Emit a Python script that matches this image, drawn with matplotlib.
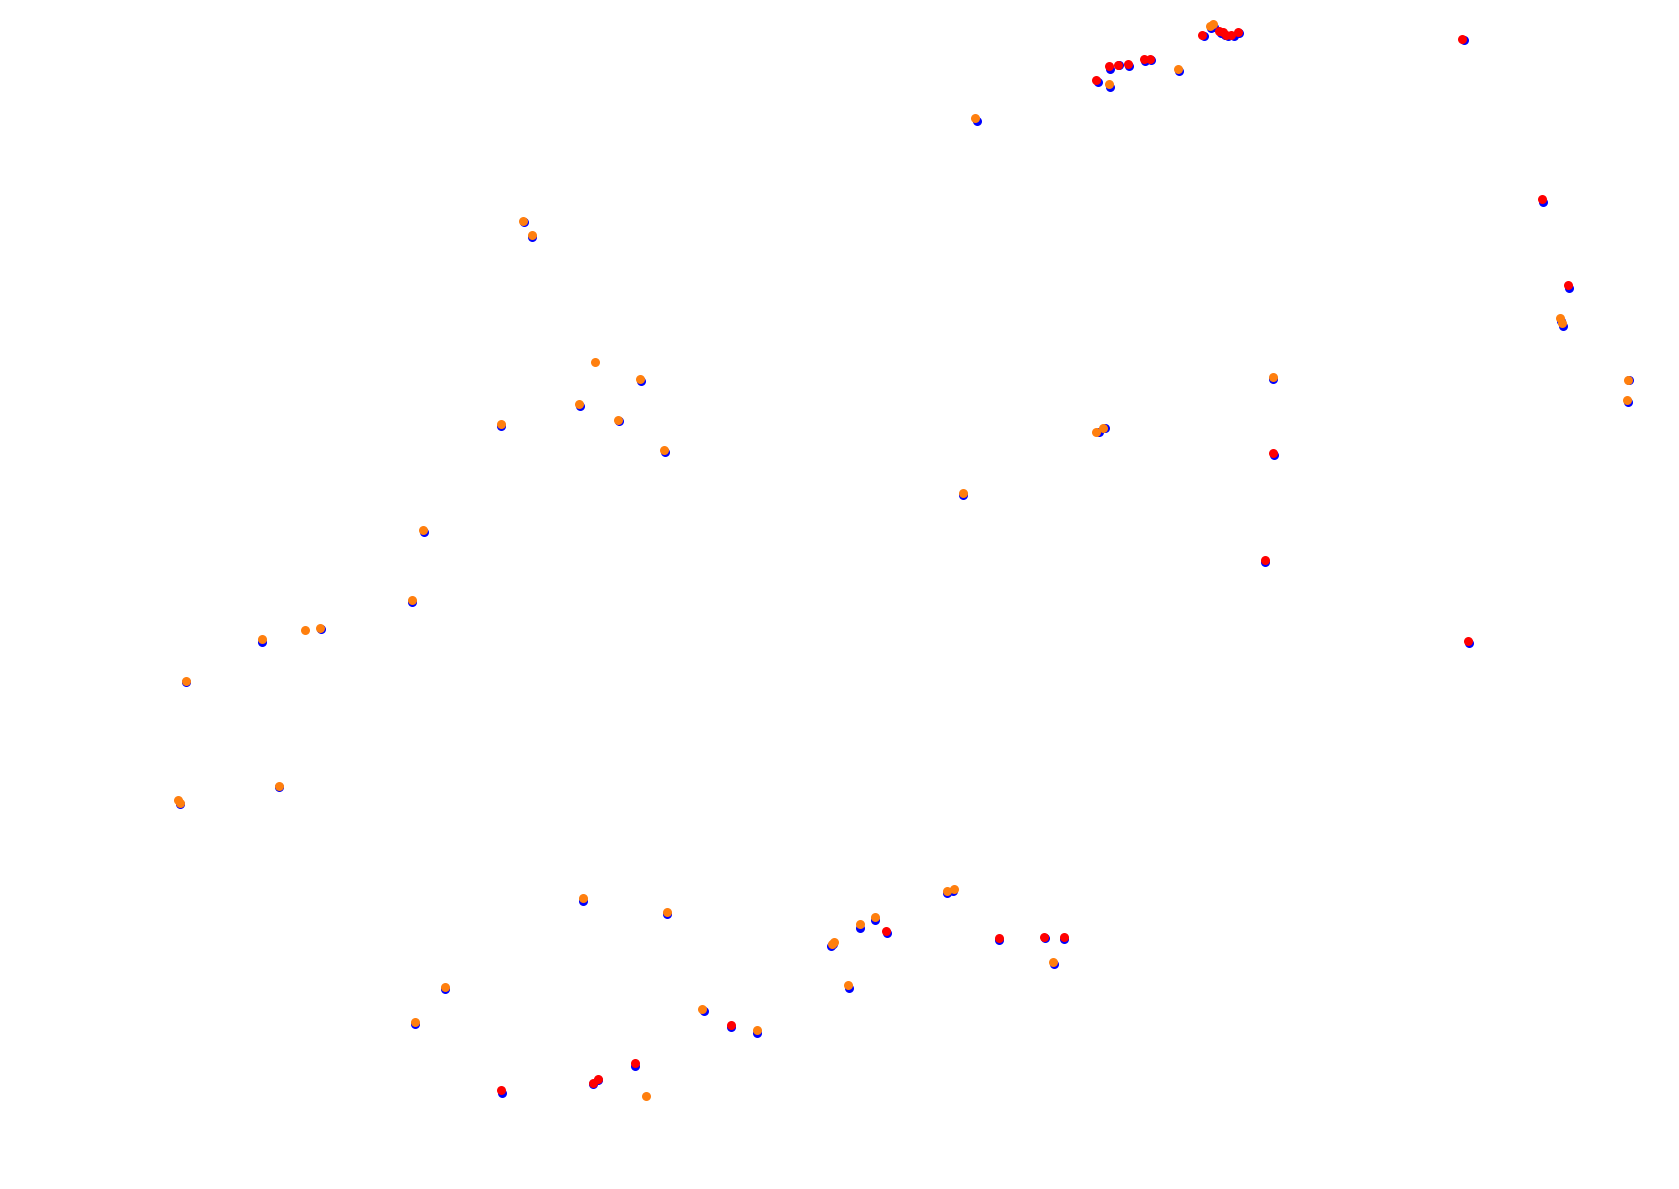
import matplotlib
matplotlib.use("Agg")
import matplotlib.pyplot as plt

# Blue base points (track map coordinates)
blue_x = [912, 1025, 1037, 1037, 1045, 1054, 1069, 1075, 1101, 1124, 1131, 1134, 1140, 1144, 1147, 1152, 1157,
          1367, 1441, 1465, 1458, 1460, 1521, 1520, 1189, 1190, 1181, 1372, 1026, 1032, 899,
          489, 497, 599, 542, 578, 468, 621, 396, 385, 245, 300, 174, 168, 261,
          544, 623, 416, 388, 469, 554, 558, 593, 657, 683, 707, 776, 778, 793, 803, 817, 828,
          884, 890, 933, 976, 994, 984]
blue_y = [113, 77, 81, 64, 61, 62, 57, 56, 66, 34, 26, 25, 31, 33, 34, 34, 31,
          37, 189, 269, 300, 304, 355, 375, 354, 425, 525, 600, 403, 400, 462,
          207, 221, 356, 379, 393, 398, 422, 497, 562, 599, 587, 637, 751, 735,
          841, 853, 923, 956, 1020, 1012, 1008, 995, 944, 959, 964, 883, 881, 922, 866, 859, 871,
          834, 832, 878, 876, 877, 900]

# Orange points
orange_x = [911, 1036, 1100, 1130, 1133, 1457, 1459, 1520, 1519, 1189, 1024, 1030, 899,
            488, 497, 556, 598, 541, 577, 468, 620, 395, 385, 245, 285, 299, 174, 166, 168, 261,
            544, 623, 416, 388, 603, 656, 707, 777, 779, 792, 803, 817, 884, 891, 983]
orange_y = [110, 78, 64, 24, 22, 297, 302, 355, 373, 352, 403, 400, 460,
            206, 219, 338, 354, 377, 392, 396, 420, 495, 560, 597, 588, 586, 636, 747, 750, 734,
            838, 851, 921, 954, 1023, 942, 962, 881, 879, 920, 863, 856, 832, 830, 898]

# Red points
red_x = [1024, 1036, 1044, 1053, 1068, 1074, 1123, 1138, 1142, 1145, 1150, 1156,
         1365, 1440, 1464, 1189, 1181, 1371, 468, 554, 558, 593, 683, 827, 933, 975, 994]
red_y = [75, 62, 61, 60, 55, 55, 33, 29, 30, 33, 33, 30,
         36, 186, 266, 423, 523, 598, 1018, 1011, 1007, 992, 957, 869, 876, 875, 875]

fig = plt.figure(figsize=(16.79, 11.89), dpi=100)
ax = fig.add_axes([0, 0, 1, 1])
ax.set_xlim(0, 1568)
ax.set_ylim(1110, 0)
ax.axis("off")

s = 42
ax.scatter(blue_x, blue_y, s=s, color="#0000ff", linewidths=0, zorder=1)
ax.scatter(orange_x, orange_y, s=s, color="#ff7f0e", linewidths=0, zorder=2)
ax.scatter(red_x, red_y, s=s, color="#ff0000", linewidths=0, zorder=3)

fig.savefig("out.png", dpi=100, facecolor="white")
